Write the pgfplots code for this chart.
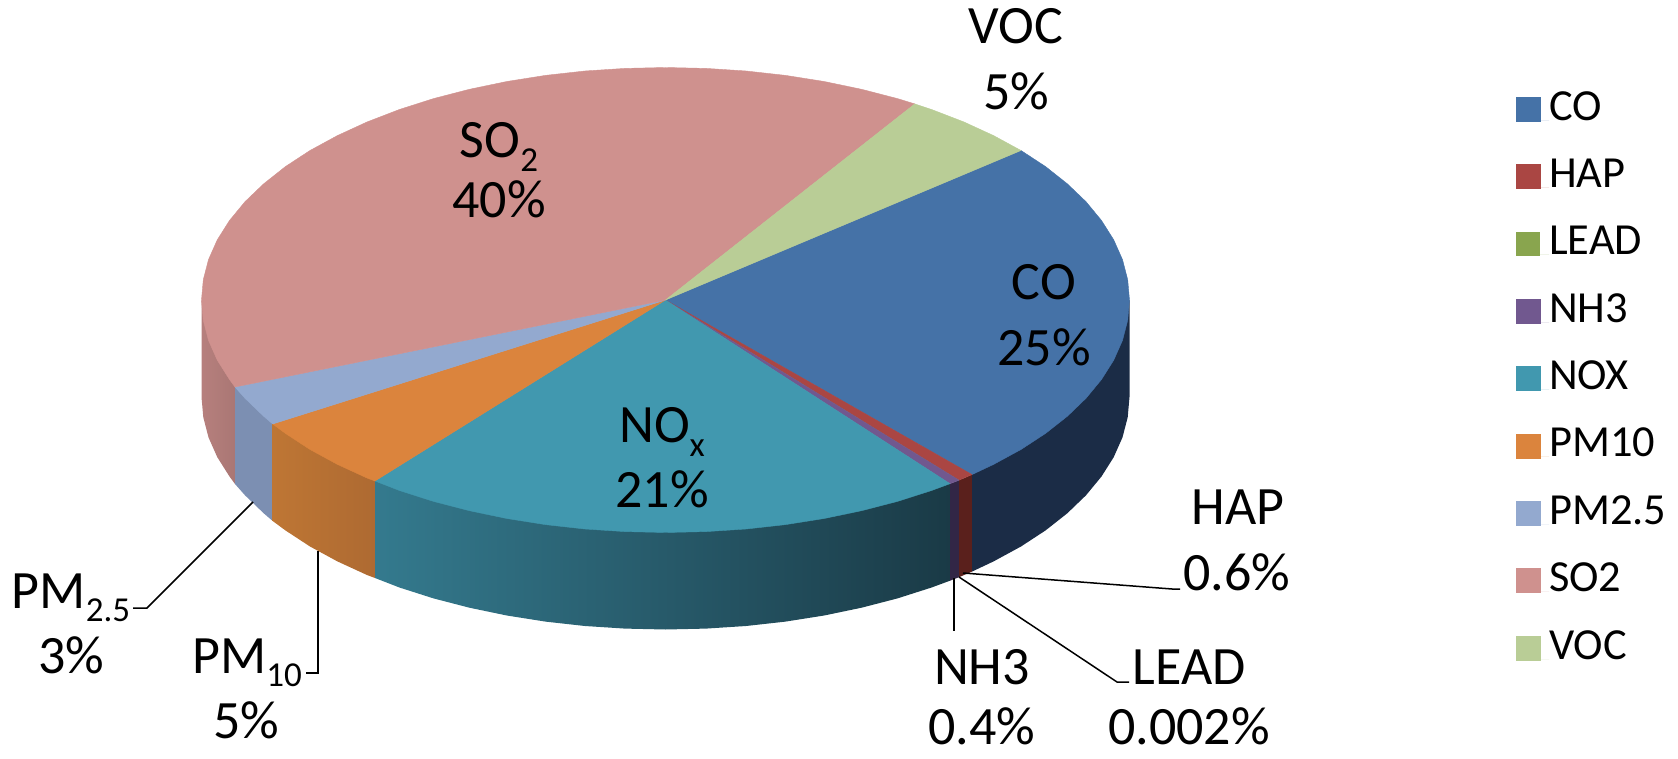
\documentclass[border=0pt]{standalone}
\usepackage{fontspec}
\setmainfont{Carlito}
\usepackage{pgfplots}
\pgfplotsset{compat=1.18}

% slice colours, top face
\definecolor{cCO}{RGB}{69,114,167}
\definecolor{cHAP}{RGB}{170,70,67}
\definecolor{cLEAD}{RGB}{137,165,78}
\definecolor{cNH}{RGB}{113,88,143}
\definecolor{cNOX}{RGB}{65,152,175}
\definecolor{cPMa}{RGB}{219,132,61}
\definecolor{cPMb}{RGB}{147,169,207}
\definecolor{cSO}{RGB}{207,145,142}
\definecolor{cVOC}{RGB}{185,205,150}

\newcommand{\lab}{\fontsize{27}{32}\selectfont}
\newcommand{\sub}[1]{\raisebox{-6.7pt}{\fontsize{17.5}{20}\selectfont #1}}

\begin{document}
\begin{tikzpicture}[lbl/.style={anchor=base, inner sep=0pt, font=\lab}]
\useasboundingbox (0,0) rectangle (839pt,379.5pt);
\begin{axis}[
    at={(0,0)}, anchor=south west,
    scale only axis, width=839pt, height=379.5pt,
    xmin=0, xmax=1678, ymin=0, ymax=759, y dir=reverse,
    hide axis, clip=false, no markers,
    legend image code/.code={\fill[#1] (0pt,-0.5pt) rectangle (12pt,11.5pt); \path[draw=none] (0pt,0pt) -- (16.5pt,0pt);},
    legend style={
        at={(axis cs:1516,92)}, anchor=north west,
        draw=none, fill=none, inner sep=0pt, outer sep=0pt,
        font=\fontsize{22.2}{26}\selectfont,
        row sep=19.1pt,
        cells={anchor=base west},
        nodes={inner sep=0pt, text height=14pt, text depth=0pt},
    },
]
% side faces
\addplot[draw=none, left color=cSO!88!black, right color=cSO!82!black, forget plot] coordinates {
  (201.5,397)(203.3,417.3)(208.5,437.4)(217.3,457.2)(229.5,476.5)(235,484)(235,387)(201.5,300)};
\addplot[draw=none, fill={rgb,255:red,124;green,143;blue,178}, forget plot] coordinates {
  (235,484)(245,495.3)(263.7,513.3)(272.7,521)(272.7,424)(235,387)};
\addplot[draw=none, left color={rgb,255:red,190;green,118;blue,52}, right color={rgb,255:red,174;green,106;blue,50}, forget plot] coordinates {
  (272.7,521)(285.4,530.4)(310,546.5)(337.4,561.4)(367.2,575.1)(375,578)(375,481)(272.7,424)};
\addplot[draw=none, left color={rgb,255:red,52;green,122;blue,142}, right color={rgb,255:red,26;green,58;blue,70}, forget plot] coordinates {
  (375,578)(399.4,587.5)(433.5,598.4)(469.4,607.7)(506.8,615.5)(545.4,621.6)(584.9,626)(625,628.6)(665.5,629.5)(706,628.6)(746.1,626)(785.6,621.6)(824.2,615.5)(861.6,607.7)(897.5,598.4)(931.6,587.5)(950,580.7)(950,483.7)(375,481)};
\addplot[draw=none, fill={rgb,255:red,50;green,38;blue,70}, forget plot] coordinates {
  (950,580.7)(959,577.2)(959,480.2)(950,483.7)};
\addplot[draw=none, fill={rgb,255:red,90;green,32;blue,28}, forget plot] coordinates {
  (959,577.2)(972,571.6)(972,474.6)(959,480.2)};
\addplot[draw=none, fill={rgb,255:red,27;green,44;blue,70}, forget plot] coordinates {
  (972,571.6)(993.6,561.4)(1021,546.5)(1045.6,530.4)(1067.3,513.3)(1086,495.3)(1101.5,476.5)(1113.7,457.2)(1122.5,437.4)(1127.7,417.3)(1129.5,397)(1129.5,300)(972,474.6)};

% top faces, legend order
\addplot[draw=cCO, line width=0.2pt, fill=cCO] coordinates {
  (665.5,300)(972,474.6)(993.6,464.4)(1021,449.5)(1045.6,433.4)(1067.3,416.3)(1086,398.3)(1101.5,379.5)(1113.7,360.2)(1122.5,340.4)(1127.7,320.3)(1129.5,300)(1127.7,279.7)(1122.5,259.6)(1113.7,239.8)(1101.5,220.5)(1086,201.7)(1067.3,183.8)(1045.6,166.6)(1021,150.5)(665.5,300)};
\addplot[draw=cHAP, line width=0.2pt, fill=cHAP] coordinates {
  (665.5,300)(959,480.2)(972,474.6)(665.5,300)};
\addplot[draw=none, fill=cLEAD] coordinates {
  (665.5,300)(959,480.2)(665.5,300)};
\addplot[draw=cNH, line width=0.2pt, fill=cNH] coordinates {
  (665.5,300)(950,483.7)(959,480.2)(665.5,300)};
\addplot[draw=cNOX, line width=0.2pt, fill=cNOX] coordinates {
  (665.5,300)(375,481)(399.4,490.5)(433.5,501.4)(469.4,510.7)(506.8,518.5)(545.4,524.6)(584.9,529)(625,531.6)(665.5,532.5)(706,531.6)(746.1,529)(785.6,524.6)(824.2,518.5)(861.6,510.7)(897.5,501.4)(931.6,490.5)(950,483.7)(665.5,300)};
\addplot[draw=cPMa, line width=0.2pt, fill=cPMa] coordinates {
  (665.5,300)(272.7,424)(285.4,433.4)(310,449.5)(337.4,464.4)(367.2,478.1)(375,481)(665.5,300)};
\addplot[draw=cPMb, line width=0.2pt, fill=cPMb] coordinates {
  (665.5,300)(235,387)(245,398.3)(263.7,416.3)(272.7,424)(665.5,300)};
\addplot[draw=cSO, line width=0.2pt, fill=cSO] coordinates {
  (665.5,300)(914.8,103.9)(897.5,98.6)(861.6,89.3)(824.2,81.5)(785.6,75.4)(746.1,71)(706,68.4)(665.5,67.5)(625,68.4)(584.9,71)(545.4,75.4)(506.8,81.5)(469.4,89.3)(433.5,98.6)(399.4,109.5)(367.2,121.9)(337.4,135.6)(310,150.5)(285.4,166.6)(263.7,183.8)(245,201.7)(229.5,220.5)(217.3,239.8)(208.5,259.6)(203.3,279.7)(201.5,300)(203.3,320.3)(208.5,340.4)(217.3,360.2)(229.5,379.5)(235,387)(665.5,300)};
\addplot[draw=cVOC, line width=0.2pt, fill=cVOC] coordinates {
  (665.5,300)(1021,150.5)(993.6,135.6)(963.8,121.9)(931.6,109.5)(914.8,103.9)(665.5,300)};
\legend{CO,HAP,LEAD,NH3,NOX,PM10,PM2.5,SO2,VOC}

% leader lines
\addplot[black, line width=0.75pt, forget plot] coordinates {(133,608)(147,608)(253,502)};
\addplot[black, line width=0.75pt, forget plot] coordinates {(306,673)(318,673)(318,551)};
\addplot[black, line width=0.75pt, forget plot] coordinates {(954,578)(954,631)};
\addplot[black, line width=0.75pt, forget plot] coordinates {(959,577)(1117,682)(1129,682)};
\addplot[black, line width=0.75pt, forget plot] coordinates {(963,573)(1172,589)(1180,589)};

% data labels
\node[lbl] at (axis cs:1016,44) {VOC};
\node[lbl] at (axis cs:1016,110) {5\%};
\node[lbl] at (axis cs:499,158) {SO\sub{2}};
\node[lbl] at (axis cs:499,218) {40\%};
\node[lbl] at (axis cs:1044,300) {CO};
\node[lbl] at (axis cs:1044,366) {25\%};
\node[lbl] at (axis cs:662,443) {NO\sub{x}};
\node[lbl] at (axis cs:662,508) {21\%};
\node[lbl] at (axis cs:1238,524) {HAP};
\node[lbl] at (axis cs:1237,590) {0.6\%};
\node[lbl] at (axis cs:982,684) {NH3};
\node[lbl] at (axis cs:982,744) {0.4\%};
\node[lbl] at (axis cs:1189,684) {LEAD};
\node[lbl] at (axis cs:1189,744) {0.002\%};
\node[lbl] at (axis cs:71,608) {PM\sub{2.5}};
\node[lbl] at (axis cs:71,673) {3\%};
\node[lbl] at (axis cs:247,673) {PM\sub{10}};
\node[lbl] at (axis cs:246,738) {5\%};
\end{axis}
\end{tikzpicture}
\end{document}
